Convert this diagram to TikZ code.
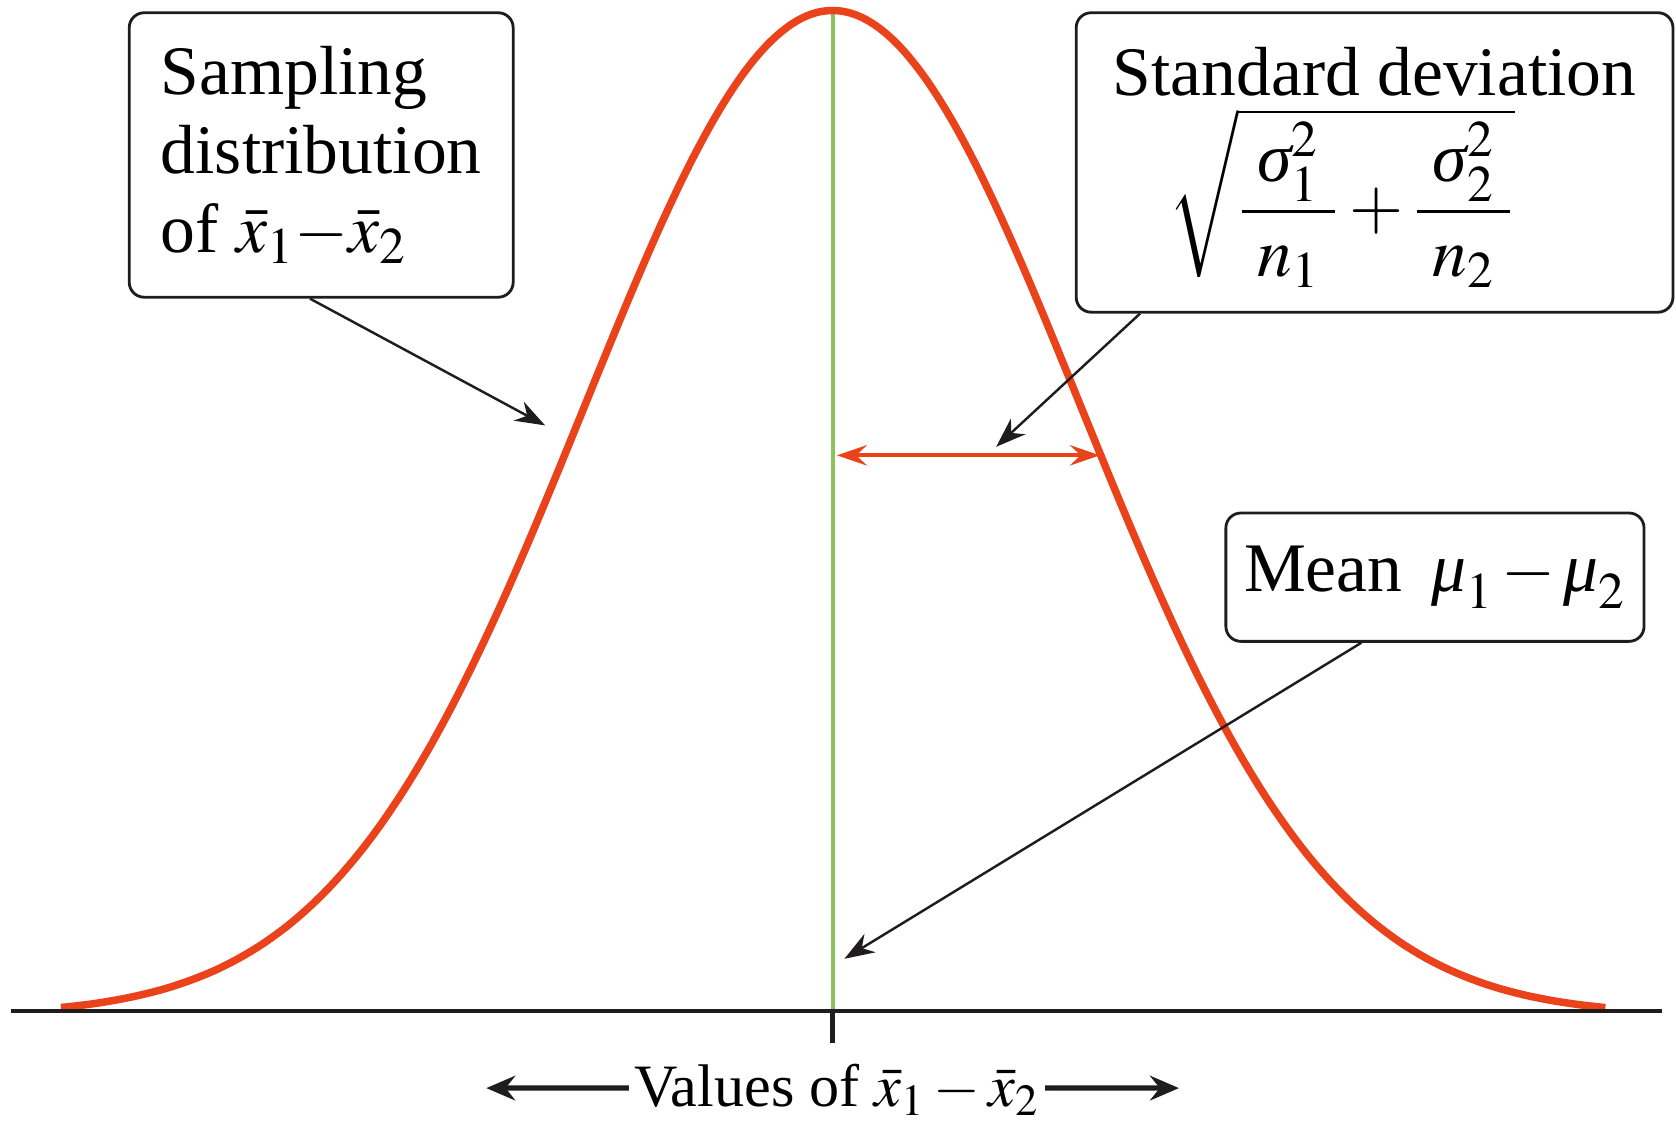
\documentclass[tikz,border=0pt]{standalone}
\usepackage{amsmath}
\usepackage{mathptmx}
\usepackage[no-math]{fontspec}
\setmainfont{Liberation Serif}
\usetikzlibrary{arrows.meta}
\definecolor{ink}{RGB}{30,28,28}
\definecolor{curvered}{RGB}{234,66,27}
\definecolor{meangreen}{RGB}{140,196,92}
\newcommand{\bigfont}{\fontsize{18.5}{21}\selectfont}
\newcommand{\midfont}{\fontsize{16}{19}\selectfont}
\newcommand{\sig}{\mbox{\itshape σ}}
\newcommand{\mmu}{\mbox{\itshape μ}}
\begin{document}
\begin{tikzpicture}[x=0.01cm,y=-0.01cm,
  box/.style={draw=ink,line width=0.75pt,rounded corners=0.14cm,font=\bigfont,inner sep=0pt},
  ptr/.style={ink,line width=0.65pt,-{Stealth[length=2.8mm,width=2mm,inset=0.9mm]}},
  sdarr/.tip={Stealth[length=2.8mm,width=1.9mm,inset=1mm]},
  axarr/.style={ink,line width=1.4pt,-{Stealth[length=2.7mm,width=2.3mm,inset=0.9mm]}}]
 \useasboundingbox (0,0) rectangle (1568,1052);
 % mean line, curve and axis
 \draw[meangreen,line width=1.1pt] (779,946) -- (779,12);
 \draw[curvered,line width=2pt] plot[domain=-3.112:3.116,samples=160,smooth]
   ({779+232*\x},{950-940*exp(-\x*\x/2)});
 \draw[ink,line width=1.2pt] (10,946) -- (1555,946);
 \draw[ink,line width=1.2pt] (779,946) -- (779,976);
 % standard deviation
 \coordinate (sl) at (783,426);
 \coordinate (sr) at (1029,426);
 \draw[curvered,line width=1.1pt,sdarr-sdarr] (sl) -- (sr);
 % boxes
 \node[box,minimum width=3.59cm,minimum height=2.66cm,align=left] (samp) at (300.5,145)
   {Sampling\\distribution\\of $\bar{x}_1{-}\bar{x}_2$};
 \node[box,minimum width=5.58cm,minimum height=2.80cm,align=center] (sd) at (1286,152)
   {Standard deviation\\[2pt]$\sqrt{\raisebox{0pt}[27pt][10pt]{$\displaystyle\frac{\;\sig_1^{2}\;}{n_1}+\frac{\;\sig_2^{2}\;}{n_2}$}}$\hspace*{0.62cm}};
 \node[box,minimum width=3.91cm,minimum height=1.20cm] (mean) at (1342.5,540)
   {Mean~\,$\mmu_1\,{-}\,\mmu_2$};
 % pointers
 \coordinate (p1) at (510,398);
 \coordinate (p2) at (932,418);
 \coordinate (p3) at (790,897);
 \draw[ptr] ([xshift=-0.105cm]samp.south) -- (p1);
 \draw[ptr] ([xshift=0.61cm]sd.south west) -- (p2);
 \draw[ptr] ([xshift=1.28cm]mean.south west) -- (p3);
 % axis label
 \node[font=\midfont,anchor=base,inner xsep=1.2pt,inner ysep=0pt] (vals) at (783,1035)
   {Values of $\bar{x}_1 - \bar{x}_2$};
 \coordinate (la) at (455,1018);
 \coordinate (ra) at (1103,1018);
 \draw[axarr] ([yshift=0.17cm]vals.base west) -- (la);
 \draw[axarr] ([yshift=0.17cm]vals.base east) -- (ra);
\end{tikzpicture}
\end{document}
